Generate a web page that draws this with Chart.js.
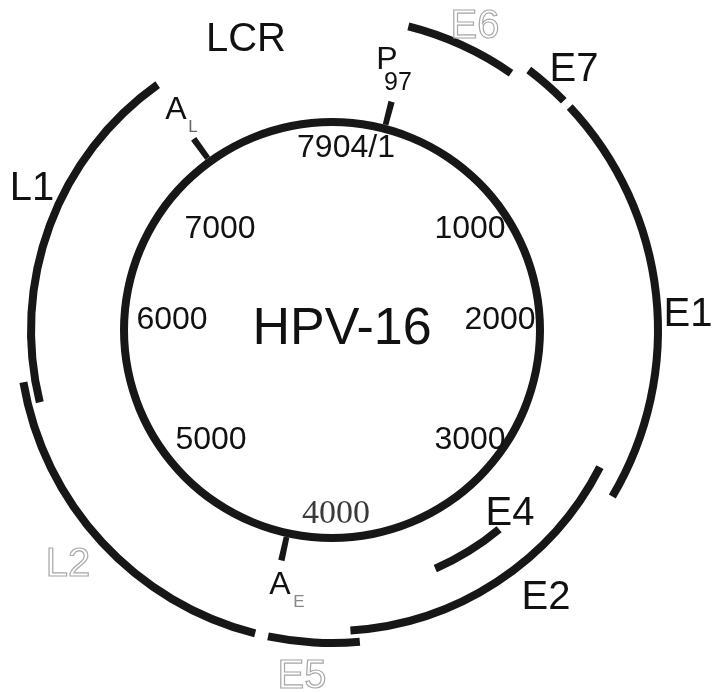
<!DOCTYPE html>
<html>
<head>
  <title>HPV-16 genome map</title>
  <style>
    body {
      margin: 0;
      padding: 0;
      background: #fff;
    }

    #wrap {
      width: 713px;
      height: 693px;
    }
  </style>
</head>
<body>

  <div id="wrap">
    <canvas id="map"></canvas>
  </div>

  <script src="https://cdn.jsdelivr.net/npm/chart.js"></script>
  <script>
    // genome size (bp) and the scale numbers written inside the circle
    const genomeLength = 7904;
    const scaleLabels = ['7904/1', '1000', '2000', '3000', '4000', '5000', '6000', '7000'];

    // open reading frames, start/end in bp
    const genes = ['E6', 'E7', 'E1', 'E2', 'E4', 'E5', 'L2', 'L1'];
    const geneStart = [310, 815, 1028, 2571, 3074, 3840, 4264, 5623];
    const geneEnd = [766, 995, 2650, 3875, 3438, 4211, 5717, 7127];

    // promoter and polyA sites (bp)
    const sites = ['P97', 'AL', 'AE'];
    const sitePos = [321, 7116, 4224];

    const ink = '#171717';
    const tickHalf = 17; // half width of a site tick, in bp

    // which ring each gene sits on (0 = outermost)
    const track = { E7: 0, E1: 0, E6: 1, E5: 1, L2: 1, E2: 2, L1: 2, E4: 3 };

    // turn a list of [start, end] pieces into alternating gap / mark segments
    function segments(pieces) {
      pieces.sort((a, b) => a[0] - b[0]);
      const data = [];
      const colors = [];
      let pos = 0;
      pieces.forEach(p => {
        data.push(p[0] - pos);
        colors.push('rgba(0,0,0,0)');
        data.push(p[1] - p[0]);
        colors.push(ink);
        pos = p[1];
      });
      data.push(genomeLength - pos);
      colors.push('rgba(0,0,0,0)');
      return { data: data, backgroundColor: colors, borderWidth: 0 };
    }

    function geneRing(n) {
      const pieces = [];
      genes.forEach((g, i) => {
        if (track[g] === n) pieces.push([geneStart[i], geneEnd[i]]);
      });
      return segments(pieces);
    }

    function spacer(w) {
      return { data: [genomeLength], backgroundColor: ['rgba(0,0,0,0)'], borderWidth: 0, weight: w };
    }

    const siteRing = segments(sitePos.map(p => [p - tickHalf, p + tickHalf]));
    const circleRing = { data: [genomeLength], backgroundColor: [ink], borderWidth: 0 };

    const datasets = [
      Object.assign(geneRing(0), { weight: 8 }),
      spacer(5),
      Object.assign(geneRing(1), { weight: 8 }),
      spacer(4),
      Object.assign(geneRing(2), { weight: 8 }),
      spacer(33),
      Object.assign(geneRing(3), { weight: 8 }),
      spacer(20),
      Object.assign(siteRing, { weight: 24 }),
      Object.assign(circleRing, { weight: 8 })
    ];

    // text placed relative to the centre of the map
    const sans = '"Liberation Sans", Arial, sans-serif';
    const serif = '"Liberation Serif", "Times New Roman", serif';
    const scaleOffsets = [[14, -184], [138, -103], [168, -12], [138, 108], [4, 181], [-121, 108], [-160, -12], [-112, -103]];

    const textItems = [
      { t: 'HPV-16', dx: 10, dy: -5, size: 52 },
      { t: 'LCR', dx: -86, dy: -293, size: 40 },
      { t: 'E6', dx: 143, dy: -306, size: 40, outline: true },
      { t: 'E7', dx: 242, dy: -263, size: 40 },
      { t: 'E1', dx: 356, dy: -18, size: 40 },
      { t: 'E4', dx: 178, dy: 181, size: 40 },
      { t: 'E2', dx: 214, dy: 265, size: 40 },
      { t: 'E5', dx: -30, dy: 344, size: 40, outline: true },
      { t: 'L2', dx: -264, dy: 232, size: 40, outline: true },
      { t: 'L1', dx: -300, dy: -144, size: 40 },
      { t: 'P', dx: 55, dy: -272, size: 32 },
      { t: '97', dx: 66, dy: -249, size: 25 },
      { t: 'A', dx: -156, dy: -222, size: 32 },
      { t: 'L', dx: -139, dy: -204, size: 17, color: '#666' },
      { t: 'A', dx: -52, dy: 253, size: 32 },
      { t: 'E', dx: -33, dy: 271, size: 17, color: '#888' }
    ];
    scaleLabels.forEach((s, i) => {
      textItems.push({
        t: s, dx: scaleOffsets[i][0], dy: scaleOffsets[i][1],
        size: s === '4000' ? 34 : 32, serif: s === '4000', color: s === '4000' ? '#3a3a3a' : null
      });
    });

    const mapText = {
      id: 'mapText',
      afterDraw(chart) {
        const arc = chart.getDatasetMeta(0).data[0];
        const cx = arc.x;
        const cy = arc.y;
        const ctx = chart.ctx;
        ctx.save();
        ctx.textAlign = 'center';
        ctx.textBaseline = 'alphabetic';
        textItems.forEach(it => {
          ctx.font = it.size + 'px ' + (it.serif ? serif : sans);
          const y = cy + it.dy + it.size * (it.serif ? 0.34 : 0.358);
          const x = cx + it.dx;
          if (it.outline) {
            ctx.strokeStyle = '#a8a8a8';
            ctx.lineWidth = 1.2;
            ctx.strokeText(it.t, x, y);
          } else {
            ctx.fillStyle = it.color || '#111';
            ctx.fillText(it.t, x, y);
          }
        });
        ctx.restore();
      }
    };

    new Chart(document.getElementById('map').getContext('2d'), {
      type: 'doughnut',
      data: {
        labels: [],
        datasets: datasets
      },
      options: {
        responsive: true,
        maintainAspectRatio: false,
        animation: false,
        events: [],
        radius: 330,
        cutout: (204 / 330 * 100) + '%',
        rotation: 0,
        layout: { padding: { left: 0, right: 49, top: 0, bottom: 33 } },
        plugins: {
          legend: { display: false },
          tooltip: { enabled: false }
        }
      },
      plugins: [mapText]
    });
  </script>
</body>
</html>
